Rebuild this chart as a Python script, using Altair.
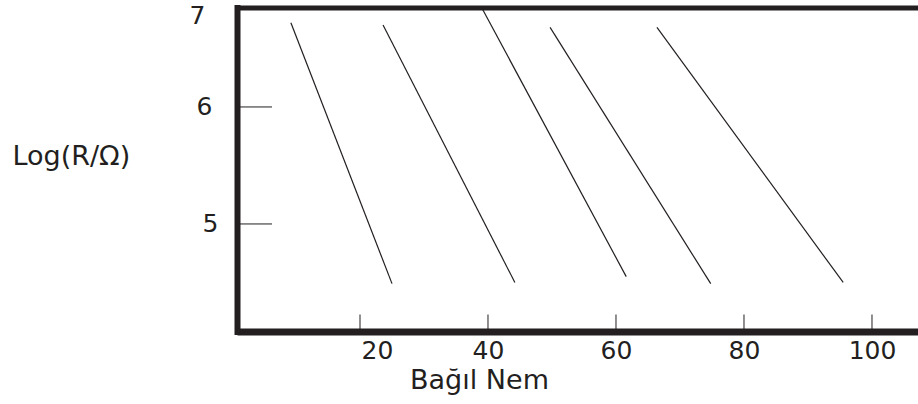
import altair as alt
import pandas as pd

# --- data ---
series = ["s1", "s2", "s3", "s4", "s5"]
x_start = [9.2, 23.6, 39.0, 49.7, 66.4]
y_start = [6.72, 6.70, 6.85, 6.68, 6.68]
x_end = [25.0, 44.2, 61.6, 74.8, 95.5]
y_end = [4.49, 4.50, 4.55, 4.49, 4.50]
x_ticks = [20, 40, 60, 80, 100]
y_ticks = [5, 6]
y_label_values = [5, 6, 6.78]   # "7" label sits at the top of the frame

INK = "#231f20"
FONT = "DejaVu Sans"

rows = []
for s, xs, ys, xe, ye in zip(series, x_start, y_start, x_end, y_end):
    rows.append({"series": s, "x": xs, "y": ys})
    rows.append({"series": s, "x": xe, "y": ye})
lines_df = pd.DataFrame(rows)
xt_df = pd.DataFrame({"x": x_ticks})
yt_df = pd.DataFrame({"y": y_ticks})

W, H = 681, 324
xscale = alt.Scale(domain=[0.78, 107.19], nice=False, zero=False)
yscale = alt.Scale(domain=[4.081, 6.850], nice=False, zero=False)

x_axis_bottom = alt.Axis(
    orient="bottom",
    values=x_ticks,
    ticks=False,
    tickSize=0,
    grid=False,
    domain=True,
    domainColor=INK,
    domainWidth=7,
    labelFont=FONT,
    labelFontSize=25,
    labelColor=INK,
    labelPadding=7,
    labelOffset={"condition": {"test": "datum.value == 20", "value": 17}, "value": 0},
    title="Bağıl Nem",
    titleFont=FONT,
    titleFontSize=27,
    titleFontWeight="normal",
    titleColor=INK,
    titleAlign="center",
    titleBaseline="alphabetic",
    titleX=242,
    titleY=57,
)

x_axis_top = alt.Axis(
    orient="top",
    labels=False,
    ticks=False,
    tickSize=0,
    grid=False,
    domain=True,
    domainColor=INK,
    domainWidth=5,
    title=None,
)

y_axis = alt.Axis(
    orient="left",
    values=y_label_values,
    labelExpr="datum.value > 6.5 ? '7' : datum.label",
    ticks=False,
    tickSize=0,
    grid=False,
    domain=True,
    domainColor=INK,
    domainWidth=6,
    domainCap="square",
    labelFont=FONT,
    labelFontSize=25,
    labelColor=INK,
    labelPadding={"condition": [
        {"test": "datum.value > 6.5", "value": 32},
        {"test": "datum.value < 5.5", "value": 19},
    ], "value": 25},
    title="Log(R/Ω)",
    titleFont=FONT,
    titleFontSize=27,
    titleFontWeight="normal",
    titleColor=INK,
    titleAngle=0,
    titleAlign="left",
    titleBaseline="alphabetic",
    titleX=-225,
    titleY=157,
)

lines = alt.Chart(lines_df).mark_line(color=INK, strokeWidth=1.2).encode(
    x=alt.X("x:Q", scale=xscale, axis=x_axis_bottom),
    y=alt.Y("y:Q", scale=yscale, axis=y_axis),
    detail="series:N",
)

xticks = alt.Chart(xt_df).mark_rule(color=INK, strokeWidth=1).encode(
    x=alt.X("x:Q", scale=xscale, axis=x_axis_top),
    y=alt.value(307),
    y2=alt.value(324),
)

yticks = alt.Chart(yt_df).mark_rule(color=INK, strokeWidth=1).encode(
    y=alt.Y("y:Q", scale=yscale, axis=y_axis),
    x=alt.value(0),
    x2=alt.value(35),
)

chart = alt.layer(lines, xticks, yticks).properties(
    width=W,
    height=H,
    autosize=alt.AutoSizeParams(type="none"),
    padding={"left": 237, "top": 7.5, "right": 0, "bottom": 72.5},
    background="white",
).configure_view(stroke=None)

chart.save("out.html", embed_options={"renderer": "svg", "actions": False})
